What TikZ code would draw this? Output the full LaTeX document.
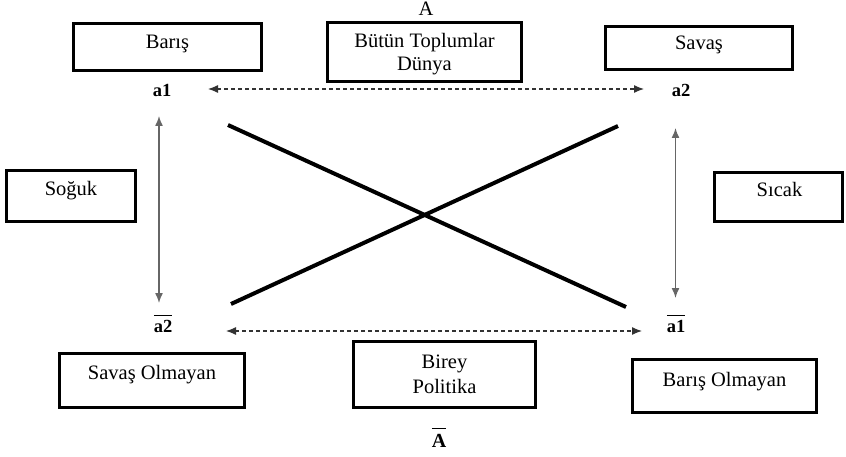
\documentclass[tikz,border=0pt]{standalone}
\usepackage{fontspec}
\setmainfont{Liberation Serif}
\usetikzlibrary{arrows.meta}
\begin{document}
\begin{tikzpicture}[x=1pt,y=-1pt,
  box/.style={draw, line width=2.6pt, minimum width=#1, inner sep=0pt},
  txt/.style={font=\fontsize{20.5}{23}\selectfont, anchor=base, inner sep=0pt},
  lbl/.style={font=\fontsize{18.5}{20}\selectfont\bfseries, anchor=base, inner sep=0pt},
  varrow/.style={draw=black!60, line width=1.4pt, {Latex[length=10pt,width=8pt]}-{Latex[length=10pt,width=8pt]}},
  harrow/.style={draw=black!80, line width=1.2pt, dash pattern=on 4pt off 3pt, {Latex[length=10pt,width=8pt]}-{Latex[length=10pt,width=8pt]}},
  crossline/.style={line width=4pt}
]
\useasboundingbox (0,0) rectangle (846,457);

% boxes
\node[box=188.5pt, minimum height=47.5pt] (baris) at (167.5,47) {};
\node[txt] (baristxt) at (167.5,49) {Barış};
\node[box=194.5pt, minimum height=59.5pt] (butun) at (424.5,52) {};
\node[txt] (butuntxt1) at (424.5,48) {Bütün Toplumlar};
\node[txt] (butuntxt2) at (424.5,71) {Dünya};
\node[box=187.5pt, minimum height=43.5pt] (savas) at (699,48) {};
\node[txt] (savastxt) at (699,50) {Savaş};
\node[box=129.5pt, minimum height=51.5pt] (soguk) at (71,196) {};
\node[txt] (soguktxt) at (71,196) {Soğuk};
\node[box=127.5pt, minimum height=49.5pt] (sicak) at (778.5,197) {};
\node[txt] (sicaktxt) at (779.5,197) {Sıcak};
\node[box=185.5pt, minimum height=54.5pt] (savasol) at (152,380.5) {};
\node[txt] (savasoltxt) at (152,379) {Savaş Olmayan};
\node[box=182.5pt, minimum height=66.5pt] (birey) at (444.5,374.5) {};
\node[txt] (bireytxt1) at (444.5,368) {Birey};
\node[txt] (bireytxt2) at (444.5,393) {Politika};
\node[box=184.5pt, minimum height=53.5pt] (barisol) at (724.5,386) {};
\node[txt] (barisoltxt) at (724.5,386) {Barış Olmayan};

% A labels
\node[txt] (A) at (426,16) {A};
\node[lbl, font=\fontsize{20}{22}\selectfont\bfseries] (Abar) at (439,447) {$\overline{\mbox{\rule{0pt}{17pt}\textbf{A}}}$};

% a labels
\node[lbl] (a1) at (162,97) {a1};
\node[lbl] (a2) at (681,97) {a2};
\node[lbl] (a2bar) at (163,332) {$\overline{\mbox{\rule{0pt}{15.5pt}\textbf{a2}}}$};
\node[lbl] (a1bar) at (676,332) {$\overline{\mbox{\rule{0pt}{15.5pt}\textbf{a1}}}$};

% arrow end points
\coordinate (ht1) at (208,89);
\coordinate (ht2) at (644,89);
\coordinate (hb1) at (226,331);
\coordinate (hb2) at (642,331);
\coordinate (vl1) at (159,116);
\coordinate (vl2) at (159,303);
\coordinate (vr1) at (675.5,128);
\coordinate (vr2) at (675.5,298);

\draw[harrow] (ht1) -- (ht2);
\draw[harrow] (hb1) -- (hb2);
\draw[varrow] (vl1) -- (vl2);
\draw[varrow] (vr1) -- (vr2);

% cross
\coordinate (c1) at (228,125);
\coordinate (c2) at (626,307);
\coordinate (c3) at (231,304);
\coordinate (c4) at (618,126);
\draw[crossline] (c1) -- (c2);
\draw[crossline] (c3) -- (c4);
\end{tikzpicture}
\end{document}
